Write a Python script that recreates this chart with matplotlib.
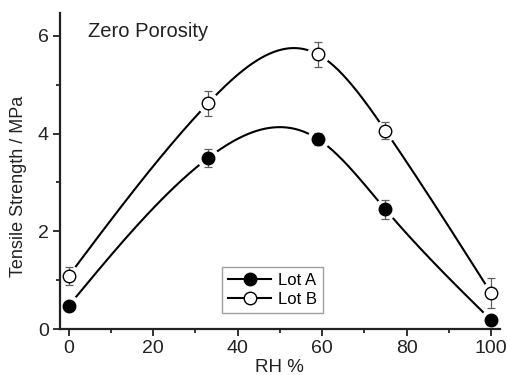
import numpy as np
import matplotlib
matplotlib.use("Agg")
import matplotlib.pyplot as plt

plt.rcParams['font.family'] = ['Liberation Sans', 'DejaVu Sans']

# data
rh = [0, 33, 59, 75, 100]
lot_a = [0.48, 3.50, 3.89, 2.45, 0.19]
lot_a_err = [0.05, 0.18, 0.12, 0.20, 0.06]
lot_b = [1.09, 4.62, 5.62, 4.06, 0.74]
lot_b_err = [0.18, 0.26, 0.25, 0.18, 0.30]

title = "Zero Porosity"
xlabel = "RH %"
ylabel = "Tensile Strength / MPa"


def natural_spline(x, y, n=300):
    # plain natural cubic spline, only used to draw the smooth connector line
    x = np.asarray(x, float)
    y = np.asarray(y, float)
    k = len(x)
    h = np.diff(x)
    A = np.zeros((k, k))
    r = np.zeros(k)
    A[0, 0] = 1
    A[-1, -1] = 1
    for i in range(1, k - 1):
        A[i, i - 1] = h[i - 1]
        A[i, i] = 2 * (h[i - 1] + h[i])
        A[i, i + 1] = h[i]
        r[i] = 3 * ((y[i + 1] - y[i]) / h[i] - (y[i] - y[i - 1]) / h[i - 1])
    c = np.linalg.solve(A, r)
    xs = np.linspace(x[0], x[-1], n)
    ys = np.empty_like(xs)
    for j, xv in enumerate(xs):
        i = min(np.searchsorted(x, xv, side='right') - 1, k - 2)
        b = (y[i + 1] - y[i]) / h[i] - h[i] * (2 * c[i] + c[i + 1]) / 3
        d = (c[i + 1] - c[i]) / (3 * h[i])
        t = xv - x[i]
        ys[j] = y[i] + b * t + c[i] * t ** 2 + d * t ** 3
    return xs, ys


fig = plt.figure(figsize=(5.07, 3.75), dpi=100)
ax = fig.add_axes([0.118, 0.122, 0.868, 0.844])

for yv, err, face, lab in [(lot_a, lot_a_err, 'black', 'Lot A'),
                           (lot_b, lot_b_err, 'white', 'Lot B')]:
    xs, ys = natural_spline(rh, yv)
    ax.plot(xs, ys, color='black', lw=1.5, zorder=1)
    # white halo to get the gap between line and marker
    ax.plot(rh, yv, 'o', ms=15, mfc='white', mec='white', zorder=2)
    ax.errorbar(rh, yv, yerr=err, fmt='none', ecolor='#606060', elinewidth=0.9,
                capsize=3, capthick=0.9, zorder=3)
    ax.plot(rh, yv, 'o', ms=9, mfc=face, mec='black', mew=1.0, zorder=4)
    # legend proxy
    ax.plot([], [], '-o', color='black', lw=1.5, ms=9, mfc=face, mec='black',
            mew=1.0, label=lab)

ax.set_xlim(-2.1, 102.1)
ax.set_ylim(0, 6.47)
ax.set_xticks([0, 20, 40, 60, 80, 100])
ax.set_xticks([10, 30, 50, 70, 90], minor=True)
ax.set_yticks([0, 2, 4, 6])
ax.set_yticks([1, 3, 5], minor=True)
ax.tick_params(which='major', direction='out', length=5, width=1.3,
               labelsize=14, pad=3, colors='#222222')
ax.tick_params(which='minor', direction='out', length=3, width=1.1)
for s in ['top', 'right']:
    ax.spines[s].set_visible(False)
for s in ['left', 'bottom']:
    ax.spines[s].set_linewidth(1.6)
    ax.spines[s].set_color('#222222')

ax.set_xlabel(xlabel, fontsize=13.5, labelpad=1, color='#222222')
ax.set_ylabel(ylabel, fontsize=13, color='#222222')
ax.yaxis.set_label_coords(-0.075, 0.453)
ax.text(4.5, 5.98, title, fontsize=14.5, va='baseline', ha='left', color='#222222')

leg = ax.legend(loc='upper left', bbox_to_anchor=(0.369, 0.197), fontsize=12,
                frameon=True, fancybox=False, edgecolor='#888888',
                handlelength=2.6, handletextpad=0.4, borderpad=0.35,
                labelspacing=0.25, borderaxespad=0)
leg.get_frame().set_linewidth(1.0)

fig.savefig("out.png", dpi=100)
